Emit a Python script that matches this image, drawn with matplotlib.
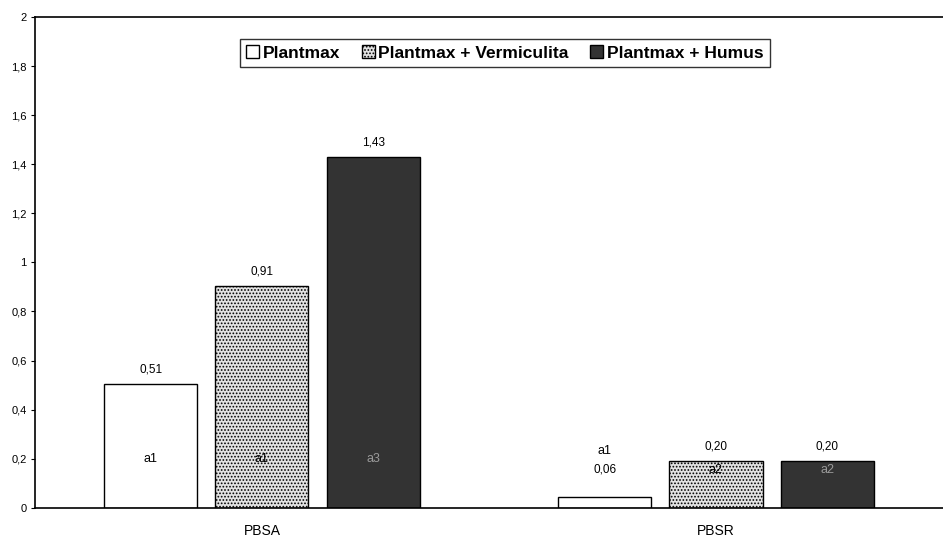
import numpy as np
import matplotlib.pyplot as plt

plt.rcParams['font.family'] = ['Liberation Sans', 'DejaVu Sans']

# dados
categorias = ['PBSA', 'PBSR']
plantmax = [0.505, 0.045]
vermiculita = [0.905, 0.19]
humus = [1.43, 0.19]

rot_plantmax = ['0,51', '0,06']
rot_vermiculita = ['0,91', '0,20']
rot_humus = ['1,43', '0,20']

letras_plantmax = ['a1', 'a1']
letras_vermiculita = ['a1', 'a2']
letras_humus = ['a3', 'a2']

series = [
    ('Plantmax', plantmax, rot_plantmax,
     dict(facecolor='white', hatch=None)),
    ('Plantmax + Vermiculita', vermiculita, rot_vermiculita,
     dict(facecolor='#e2e2e2', hatch='.....')),
    ('Plantmax + Humus', humus, rot_humus,
     dict(facecolor='#333333', hatch=None)),
]

plt.rcParams['hatch.color'] = '#555555'
plt.rcParams['hatch.linewidth'] = 0.8

fig = plt.figure(figsize=(9.43, 5.4), dpi=100)
ax = fig.add_axes([0.037, 0.06, 0.963, 0.908])

x = np.arange(len(categorias))
larg = 0.205
passo = 0.245

for i, (nome, vals, rots, estilo) in enumerate(series):
    pos = x + (i - 1) * passo
    ax.bar(pos, vals, width=larg, edgecolor='black', linewidth=1.0,
           label=nome, **estilo)
    for j in range(len(pos)):
        desl = 0.06 if vals[j] > 0.1 else 0.11  # o rotulo 0,06 fica mais alto
        ax.text(pos[j], vals[j] + desl, rots[j], ha='center', va='center',
                fontsize=8.5, color='black')

# letras de significancia
cinza = '#9a9a9a'
ax.text(x[0] - passo, 0.2, letras_plantmax[0], ha='center', va='center', fontsize=9)
ax.text(x[0], 0.2, letras_vermiculita[0], ha='center', va='center', fontsize=9)
ax.text(x[0] + passo, 0.2, letras_humus[0], ha='center', va='center', fontsize=9,
        color=cinza)
ax.text(x[1] - passo, 0.23, letras_plantmax[1], ha='center', va='center', fontsize=9)
ax.text(x[1], 0.155, letras_vermiculita[1], ha='center', va='center', fontsize=9)
ax.text(x[1] + passo, 0.155, letras_humus[1], ha='center', va='center', fontsize=9,
        color=cinza)

ax.set_xlim(-0.5, 1.5)
ax.set_ylim(0, 2)
ax.set_xticks(x)
ax.set_xticklabels(categorias, fontsize=10)
ax.tick_params(axis='x', length=0, pad=12)
ax.set_yticks(np.arange(0, 2.01, 0.2))
ax.set_yticklabels(['0', '0,2', '0,4', '0,6', '0,8', '1', '1,2', '1,4', '1,6', '1,8', '2'],
                   fontsize=8)
ax.tick_params(axis='y', direction='out', length=3, pad=3)
for lado in ['left', 'bottom', 'top']:
    ax.spines[lado].set_linewidth(1.2)
ax.spines['right'].set_visible(False)

leg = ax.legend(loc='upper center', bbox_to_anchor=(0.5176, 0.955), ncol=3,
                prop={'size': 12.5, 'weight': 'bold'}, frameon=True,
                fancybox=False, edgecolor='black',
                handlelength=0.75, handleheight=0.75, handletextpad=0.2,
                columnspacing=1.25, borderpad=0.35, borderaxespad=0)
leg.get_frame().set_linewidth(1.0)

plt.savefig('out.png', dpi=100)
